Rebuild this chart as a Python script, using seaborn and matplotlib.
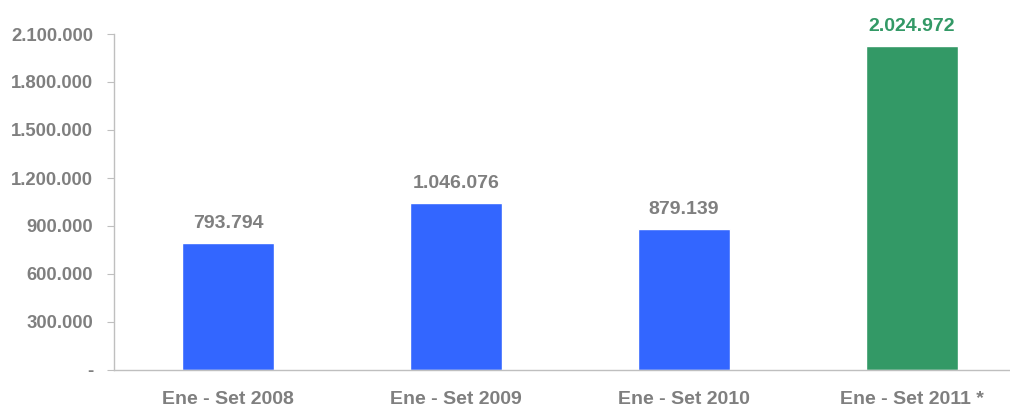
import matplotlib
matplotlib.use("Agg")
import matplotlib.pyplot as plt
import seaborn as sns
import pandas as pd
from matplotlib.ticker import FixedLocator, FuncFormatter

# Datos del gráfico
periodos = ["Ene - Set 2008", "Ene - Set 2009", "Ene - Set 2010", "Ene - Set 2011 *"]
valores = [793794, 1046076, 879139, 2024972]
colores = ["#3366FF", "#3366FF", "#3366FF", "#339966"]
colores_etiqueta = ["#7F7F7F", "#7F7F7F", "#7F7F7F", "#339966"]
y_ticks = [0, 300000, 600000, 900000, 1200000, 1500000, 1800000, 2100000]

df = pd.DataFrame({"periodo": periodos, "valor": valores})

sns.set_style("white")
plt.rcParams["font.family"] = ["Liberation Sans", "DejaVu Sans"]
plt.rcParams["font.weight"] = "bold"

fig = plt.figure(figsize=(10.1, 4.07), dpi=100)
ax = fig.add_axes([114 / 1010, 37 / 407, 1 - 114 / 1010, 336 / 407])

sns.barplot(data=df, x="periodo", y="valor", hue="periodo", palette=colores,
            width=0.4, legend=False, ax=ax, saturation=1)


def miles(v):
    return f"{int(v):,}".replace(",", ".")


for cont, col in zip(ax.containers, colores_etiqueta):
    ax.bar_label(cont, labels=[miles(b.get_height()) for b in cont],
                 padding=8, color=col, fontsize=14, fontweight="bold")

ax.set_ylim(0, 2100000)
ax.set_xlim(-0.5, 3.43)
ax.set_yticks(y_ticks)
ax.yaxis.set_major_formatter(FuncFormatter(lambda v, p: "-" if v == 0 else miles(v)))
ax.set_xlabel("")
ax.set_ylabel("")

ax.xaxis.set_minor_locator(FixedLocator([-0.5, 0.5, 1.5, 2.5]))
ax.tick_params(axis="x", which="major", length=0, pad=15, labelsize=14, labelcolor="#7F7F7F")
ax.tick_params(axis="x", which="minor", length=6, color="#BFBFBF", direction="out")
ax.tick_params(axis="y", length=5, color="#BFBFBF", direction="out", pad=10,
               labelsize=13.3, labelcolor="#7F7F7F", left=True)
for lbl in ax.get_xticklabels() + ax.get_yticklabels():
    lbl.set_fontweight("bold")

for s in ["top", "right"]:
    ax.spines[s].set_visible(False)
for s in ["left", "bottom"]:
    ax.spines[s].set_color("#BFBFBF")
    ax.spines[s].set_linewidth(1)

fig.savefig("out.png", dpi=100)
